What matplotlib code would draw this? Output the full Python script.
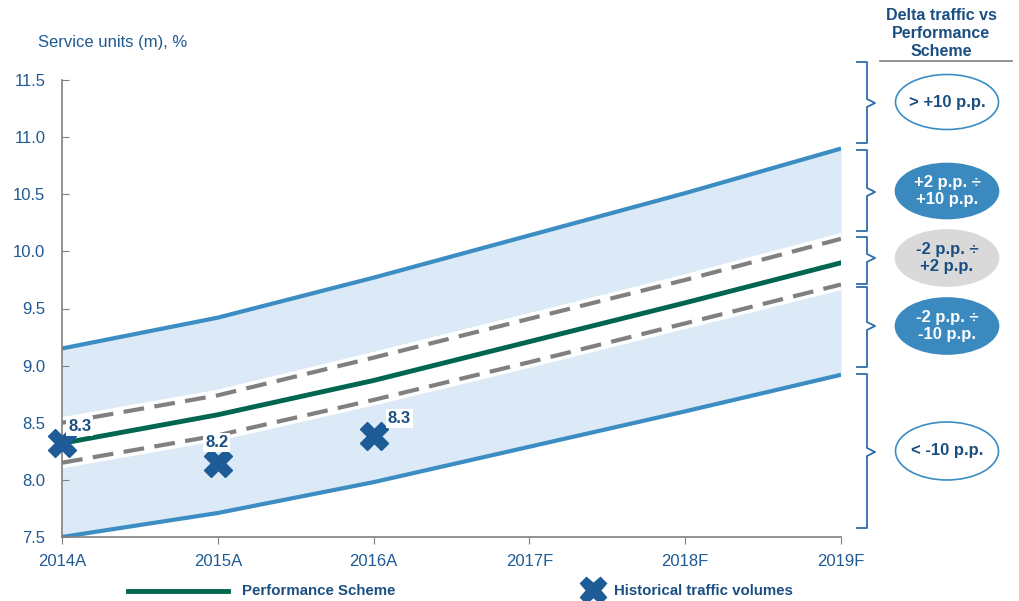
import matplotlib.pyplot as plt
from matplotlib.patches import Ellipse
import numpy as np

plt.rcParams['font.family'] = ['Liberation Sans', 'DejaVu Sans']

years = ['2014A', '2015A', '2016A', '2017F', '2018F', '2019F']
upper_band = [9.15, 9.42, 9.77, 10.14, 10.51, 10.90]
lower_band = [7.50, 7.71, 7.98, 8.29, 8.60, 8.92]
perf_scheme = [8.32, 8.57, 8.87, 9.21, 9.55, 9.90]
upper_dash = [8.50, 8.74, 9.07, 9.41, 9.75, 10.11]
lower_dash = [8.15, 8.39, 8.70, 9.03, 9.37, 9.71]
hist_idx = [0, 1, 2]
hist_vals = [8.32, 8.15, 8.38]
hist_labels = ['8.3', '8.2', '8.3']

navy = '#1F5A93'
dark_navy = '#1B4F82'
band_blue = '#3C8DC3'
fill_blue = '#DBEAF6'
green = '#00664F'
grey = '#808080'
mark_blue = '#1D5C97'

W, H = 1020, 601
fig = plt.figure(figsize=(W / 100, H / 100), dpi=100)
ax = fig.add_axes([62 / W, (H - 537) / H, (841 - 62) / W, (537 - 80) / H])

x = np.arange(len(years))
ax.fill_between(x, lower_band, lower_dash, color=fill_blue, lw=0)
ax.fill_between(x, upper_dash, upper_band, color=fill_blue, lw=0)
ax.plot(x, upper_band, color=band_blue, lw=3, solid_capstyle='butt')
ax.plot(x, lower_band, color=band_blue, lw=3, solid_capstyle='butt')
ax.plot(x, upper_dash, color='white', lw=8)
ax.plot(x, lower_dash, color='white', lw=8)
ax.plot(x, upper_dash, color=grey, lw=3, dashes=(5, 2.5))
ax.plot(x, lower_dash, color=grey, lw=3, dashes=(5, 2.5))
ax.plot(x, perf_scheme, color=green, lw=3.5)

ax.plot(hist_idx, hist_vals, ls='none', marker='X', ms=20, color=mark_blue,
        markeredgecolor=mark_blue, clip_on=False, zorder=5)
offsets = [(0.04, 0.15), (-0.08, 0.18), (0.09, 0.16)]
for i, v, lab, (dx, dy) in zip(hist_idx, hist_vals, hist_labels, offsets):
    ax.text(i + dx, v + dy, lab, color=dark_navy, fontsize=12, fontweight='bold',
            ha='left', va='center', zorder=6,
            bbox=dict(facecolor='white', edgecolor='none', pad=1.5))

ax.set_xlim(0, 5)
ax.set_ylim(7.5, 11.5)
ax.set_xticks(x)
ax.set_xticklabels(years)
ax.set_yticks(np.arange(7.5, 11.51, 0.5))
ax.set_yticklabels([f'{v:.1f}' for v in np.arange(7.5, 11.51, 0.5)])
ax.tick_params(axis='y', direction='in', length=5, color=grey, labelcolor=navy,
               labelsize=12, pad=12)
ax.tick_params(axis='x', direction='out', length=5, color=grey, labelcolor=navy,
               labelsize=12, pad=7)
for s in ['top', 'right']:
    ax.spines[s].set_visible(False)
for s in ['left', 'bottom']:
    ax.spines[s].set_color(grey)
    ax.spines[s].set_linewidth(1.2)

# overlay in pixel coordinates for annotations
ov = fig.add_axes([0, 0, 1, 1], zorder=10)
ov.set_xlim(0, W)
ov.set_ylim(H, 0)
ov.axis('off')

ov.text(38, 42, 'Service units (m), %', color=navy, fontsize=12, ha='left', va='center')

ov.text(941, 33, 'Delta traffic vs\nPerformance\nScheme', color=dark_navy, fontsize=11.5,
        fontweight='bold', ha='center', va='center', linespacing=1.25)
ov.plot([880, 1012], [61, 61], color=grey, lw=1.2)

braces = [(62, 143, 103), (150, 231, 192), (237, 284, 258), (287, 367, 326), (374, 528, 452)]
for top, bot, tip in braces:
    bx = 867
    ov.plot([857, bx, bx, 875, bx, bx, 857], [top, top, tip - 4, tip, tip + 4, bot, bot],
            color='#2E6DAA', lw=1.3)

ellipses = [
    (102, 55, '> +10 p.p.', 'white', band_blue, dark_navy),
    (191, 55, '+2 p.p. ÷\n+10 p.p.', '#3A89BF', '#3A89BF', 'white'),
    (258, 56, '-2 p.p. ÷\n+2 p.p.', '#D9D9D9', '#D9D9D9', dark_navy),
    (326, 56, '-2 p.p. ÷\n-10 p.p.', '#3A89BF', '#3A89BF', 'white'),
    (451, 58, '< -10 p.p.', 'white', band_blue, dark_navy),
]
for cy, h, txt, fc, ec, tc in ellipses:
    ov.add_patch(Ellipse((947, cy), 103, h, facecolor=fc, edgecolor=ec, lw=1.2))
    ov.text(947, cy, txt, color=tc, fontsize=12, fontweight='bold', ha='center',
            va='center', linespacing=1.15)

ov.plot([128, 228], [591, 591], color=green, lw=3.5)
ov.text(242, 591, 'Performance Scheme', color=dark_navy, fontsize=10.8,
        fontweight='bold', ha='left', va='center')
ov.plot([593], [590], marker='X', ms=19, color=mark_blue, markeredgecolor=mark_blue)
ov.text(614, 591, 'Historical traffic volumes', color=dark_navy, fontsize=10.8,
        fontweight='bold', ha='left', va='center')

fig.savefig('out.png', dpi=100)
